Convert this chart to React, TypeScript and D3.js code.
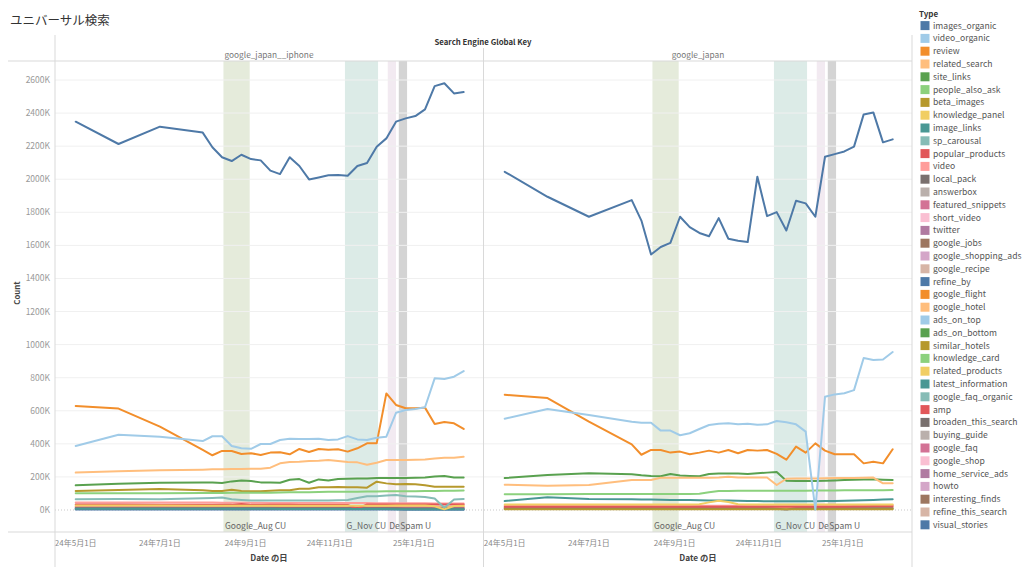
import React from "react";
import * as d3 from "d3";

const FONT = "'Noto Sans CJK JP', 'Noto Sans', sans-serif";

const dateStrings = [
  "2024-05-01", "2024-06-01", "2024-07-01", "2024-08-01", "2024-08-08", "2024-08-15", "2024-08-22",
  "2024-08-29", "2024-09-05", "2024-09-12", "2024-09-19", "2024-09-26", "2024-10-03", "2024-10-10",
  "2024-10-17", "2024-10-24", "2024-10-31", "2024-11-07", "2024-11-14", "2024-11-21", "2024-11-28",
  "2024-12-05", "2024-12-12", "2024-12-19", "2024-12-26", "2025-01-02", "2025-01-09", "2025-01-16",
  "2025-01-23", "2025-01-30", "2025-02-06",
];

const legendTypes = [
  "images_organic", "video_organic", "review", "related_search", "site_links", "people_also_ask",
  "beta_images", "knowledge_panel", "image_links", "sp_carousal", "popular_products", "video",
  "local_pack", "answerbox", "featured_snippets", "short_video", "twitter", "google_jobs",
  "google_shopping_ads", "google_recipe", "refine_by", "google_flight", "google_hotel", "ads_on_top",
  "ads_on_bottom", "similar_hotels", "knowledge_card", "related_products", "latest_information",
  "google_faq_organic", "amp", "broaden_this_search", "buying_guide", "google_faq", "google_shop",
  "home_service_ads", "howto", "interesting_finds", "refine_this_search", "visual_stories",
];

const legendColors = [
  "#4e79a7", "#a0cbe8", "#f28e2b", "#ffbe7d", "#59a14f", "#8cd17d", "#b6992d", "#f1ce63", "#499894",
  "#86bcb6", "#e15759", "#ff9d9a", "#79706e", "#bab0ac", "#d37295", "#fabfd2", "#b07aa1", "#9d7660",
  "#d4a6c8", "#d7b5a6", "#4e79a7", "#f28e2b", "#ffbe7d", "#a0cbe8", "#59a14f", "#b6992d", "#8cd17d",
  "#f1ce63", "#499894", "#86bcb6", "#e15759", "#79706e", "#bab0ac", "#d37295", "#fabfd2", "#b07aa1",
  "#d4a6c8", "#9d7660", "#d7b5a6", "#4e79a7",
];

const yTicks = [0, 200, 400, 600, 800, 1000, 1200, 1400, 1600, 1800, 2000, 2200, 2400, 2600];

// ---- google_japan__iphone (values in K) ----
const iphone_images_organic = [2348, 2213, 2318, 2282, 2193, 2133, 2110, 2148, 2122, 2114, 2052, 2031, 2133, 2080, 1999, 2011, 2024, 2025, 2021, 2080, 2098, 2197, 2247, 2348, 2368, 2382, 2422, 2563, 2580, 2519, 2527];
const iphone_video_organic = [387, 455, 443, 417, 446, 446, 387, 373, 370, 399, 399, 423, 431, 429, 429, 431, 423, 427, 447, 427, 423, 437, 443, 588, 605, 611, 621, 796, 792, 806, 840];
const iphone_review = [629, 613, 504, 363, 331, 357, 357, 339, 343, 333, 347, 349, 337, 369, 351, 369, 365, 367, 353, 373, 403, 403, 705, 635, 615, 615, 619, 520, 532, 524, 490];
const iphone_related_search = [226, 234, 240, 244, 246, 246, 248, 248, 250, 250, 256, 282, 290, 292, 296, 298, 302, 296, 290, 288, 274, 286, 302, 302, 302, 304, 306, 312, 316, 316, 322];
const iphone_site_links = [149, 159, 165, 167, 167, 163, 173, 179, 175, 167, 167, 165, 183, 187, 165, 185, 179, 187, 189, 191, 191, 193, 193, 193, 193, 195, 197, 203, 205, 197, 197];
const iphone_beta_images = [115, 121, 127, 119, 115, 115, 123, 115, 113, 113, 117, 119, 119, 129, 129, 137, 137, 139, 137, 137, 135, 171, 161, 155, 157, 155, 149, 141, 141, 141, 141];
const iphone_people_also_ask = [101, 101, 102, 103, 103, 103, 104, 104, 104, 105, 105, 106, 107, 108, 108, 109, 110, 110, 111, 111, 112, 112, 113, 113, 114, 114, 115, 115, 116, 117, 118];
const iphone_sp_carousal = [65, 67, 65, 71, 73, 75, 65, 61, 57, 57, 57, 57, 57, 57, 58, 58, 58, 59, 61, 73, 83, 83, 87, 91, 83, 81, 79, 69, 14, 63, 67];
const iphone_video = [46, 46, 45, 45, 45, 44, 44, 44, 44, 44, 43, 43, 43, 43, 43, 42, 42, 42, 42, 42, 42, 41, 41, 41, 41, 41, 41, 40, 40, 40, 40];
const iphone_popular_products = [33, 33, 32, 32, 32, 31, 31, 36, 31, 31, 31, 31, 31, 30, 30, 30, 30, 30, 30, 8, 33, 34, 34, 34, 34, 34, 33, 33, 33, 33, 33];
const iphone_knowledge_panel = [27, 27, 27, 26, 26, 26, 26, 26, 26, 26, 26, 26, 26, 26, 26, 26, 26, 26, 26, 26, 26, 26, 26, 27, 27, 27, 27, 22, 4, 24, 25];
const iphone_google_hotel = [21, 21, 21, 21, 21, 21, 21, 21, 21, 20, 20, 20, 20, 20, 20, 20, 20, 20, 20, 20, 20, 20, 20, 20, 20, 20, 20, 20, 19, 19, 19];
const iphone_featured_snippets = [17, 17, 17, 16, 16, 16, 16, 16, 16, 16, 16, 15, 15, 15, 15, 15, 15, 15, 15, 15, 15, 15, 15, 14, 14, 14, 14, 14, 14, 14, 14];
const iphone_local_pack = [10, 10, 10, 10, 10, 10, 10, 10, 10, 10, 10, 10, 10, 10, 10, 10, 10, 10, 10, 10, 10, 10, 10, 10, 9, 9, 9, 9, 9, 9, 9];
const iphone_image_links = [7, 7, 7, 7, 7, 7, 7, 7, 7, 7, 7, 6, 6, 6, 6, 6, 6, 6, 6, 6, 6, 6, 6, 5, 5, 5, 5, 4, 4, 4, 4];
const iphone_refine_by = [3, 3, 3, 3, 3, 3, 3, 3, 3, 3, 3, 3, 3, 3, 3, 3, 3, 3, 3, 3, 3, 3, 3, 3, 2, 2, 2, 2, 2, 2, 2];

// ---- google_japan (values in K) ----
const japan_images_organic = [2045, 1894, 1773, 1874, 1750, 1545, 1590, 1615, 1773, 1710, 1675, 1655, 1765, 1640, 1628, 1620, 2015, 1777, 1801, 1690, 1870, 1854, 1773, 2136, 2152, 2168, 2197, 2392, 2404, 2223, 2241];
const japan_video_organic = [552, 611, 574, 534, 528, 528, 480, 480, 452, 464, 490, 514, 522, 524, 518, 522, 516, 518, 538, 530, 518, 474, 2, 685, 699, 706, 725, 919, 907, 910, 955];
const japan_review = [697, 677, 534, 397, 334, 363, 363, 347, 353, 337, 347, 359, 347, 363, 343, 363, 359, 363, 339, 304, 383, 347, 403, 359, 337, 337, 337, 282, 292, 282, 367];
const japan_related_search = [153, 147, 151, 181, 181, 181, 195, 195, 195, 195, 195, 195, 197, 201, 197, 197, 197, 197, 151, 189, 191, 191, 191, 192, 193, 193, 194, 195, 196, 161, 161];
const japan_site_links = [193, 212, 222, 216, 210, 206, 204, 218, 208, 206, 204, 218, 220, 220, 220, 218, 222, 226, 230, 177, 175, 175, 175, 177, 179, 181, 183, 185, 186, 183, 181];
const japan_people_also_ask = [95, 95, 96, 96, 96, 96, 97, 97, 97, 97, 98, 107, 115, 115, 116, 116, 116, 117, 117, 117, 117, 117, 118, 118, 118, 119, 119, 119, 120, 120, 121];
const japan_image_links = [54, 77, 67, 65, 64, 63, 62, 61, 61, 60, 59, 58, 57, 57, 56, 55, 54, 53, 53, 53, 53, 53, 53, 54, 55, 56, 57, 59, 61, 63, 65];
const japan_knowledge_panel = [34, 34, 34, 34, 34, 34, 34, 34, 34, 34, 35, 46, 56, 48, 35, 34, 34, 34, 34, 34, 34, 34, 34, 34, 34, 34, 34, 34, 34, 34, 34];
const japan_video = [27, 27, 27, 27, 27, 27, 27, 26, 26, 26, 26, 26, 26, 26, 26, 26, 26, 26, 26, 26, 26, 26, 26, 26, 26, 27, 27, 27, 28, 28, 28];
const japan_popular_products = [19, 19, 19, 19, 19, 19, 19, 19, 19, 19, 19, 19, 19, 19, 19, 19, 19, 19, 19, 19, 19, 19, 19, 19, 20, 20, 21, 21, 22, 22, 22];
const japan_local_pack = [11, 11, 11, 11, 11, 11, 11, 11, 11, 11, 11, 11, 11, 11, 11, 11, 11, 11, 8, 3, 10, 11, 11, 11, 11, 11, 11, 11, 11, 11, 11];
const japan_google_hotel = [13, 13, 13, 13, 13, 13, 13, 13, 13, 13, 13, 13, 13, 13, 13, 13, 13, 13, 13, 13, 13, 13, 13, 13, 13, 13, 13, 13, 13, 13, 13];
const japan_beta_images = [5, 5, 5, 5, 5, 5, 5, 5, 5, 5, 5, 5, 5, 5, 5, 5, 5, 5, 5, 5, 5, 5, 5, 5, 5, 5, 5, 5, 5, 5, 5];

const iphoneSeries: [string, number[]][] = [
  ["images_organic", iphone_images_organic],
  ["video_organic", iphone_video_organic],
  ["review", iphone_review],
  ["related_search", iphone_related_search],
  ["site_links", iphone_site_links],
  ["people_also_ask", iphone_people_also_ask],
  ["beta_images", iphone_beta_images],
  ["knowledge_panel", iphone_knowledge_panel],
  ["image_links", iphone_image_links],
  ["sp_carousal", iphone_sp_carousal],
  ["popular_products", iphone_popular_products],
  ["video", iphone_video],
  ["local_pack", iphone_local_pack],
  ["featured_snippets", iphone_featured_snippets],
  ["refine_by", iphone_refine_by],
  ["google_hotel", iphone_google_hotel],
];

const japanSeries: [string, number[]][] = [
  ["images_organic", japan_images_organic],
  ["video_organic", japan_video_organic],
  ["review", japan_review],
  ["related_search", japan_related_search],
  ["site_links", japan_site_links],
  ["people_also_ask", japan_people_also_ask],
  ["beta_images", japan_beta_images],
  ["knowledge_panel", japan_knowledge_panel],
  ["image_links", japan_image_links],
  ["popular_products", japan_popular_products],
  ["video", japan_video],
  ["local_pack", japan_local_pack],
  ["google_hotel", japan_google_hotel],
];

const bandLabels = ["Google_Aug CU", "G_Nov CU", "De", "Spam U"];
const bandStarts = ["2024-08-16", "2024-11-12", "2024-12-13", "2024-12-21"];
const bandEnds = ["2024-09-04", "2024-12-06", "2024-12-19", "2024-12-27"];
const bandColors = ["#e5ebdb", "#dcebe7", "#f2eaf1", "#d4d4d4"];

const panes = [
  { name: "google_japan__iphone", x0: 55, x1: 483, series: iphoneSeries },
  { name: "google_japan", x0: 484, x1: 912, series: japanSeries },
];

const parse = d3.utcParse("%Y-%m-%d");
const dates = dateStrings.map((s) => parse(s) as Date);
const domainStart = parse("2024-04-16") as Date;
const domainEnd = parse("2025-02-20") as Date;

const PLOT_TOP = 61;
const PLOT_BOTTOM = 532;

const y = d3.scaleLinear().domain([0, 2600]).range([510, 80]);

const colorOf = (t: string) => legendColors[legendTypes.indexOf(t)];
const fmtDate = (d: Date) =>
  `${String(d.getUTCFullYear()).slice(2)}年${d.getUTCMonth() + 1}月${d.getUTCDate()}日`;

export default function App() {
  const gridColor = "#f0f0f0";
  const lineColor = "#d9d9d9";
  return (
    <svg
      width={1024}
      height={576}
      style={{ position: "absolute", left: 0, top: 0, display: "block", background: "#fff" }}
      fontFamily={FONT}
    >
      <text x={10} y={25} fontSize={12.5} fill="#333">ユニバーサル検索</text>

      {/* header */}
      <text x={483} y={45} fontSize={7.8} fontWeight="bold" fill="#333" textAnchor="middle">
        Search Engine Global Key
      </text>

      {panes.map((p, pi) => {
        const x = d3.scaleUtc().domain([domainStart, domainEnd]).range([p.x0, p.x1]);
        const ticks = d3.utcMonth.every(2)!.range(domainStart, domainEnd);
        const line = d3
          .line<number>()
          .x((_, i) => x(dates[i]))
          .y((v) => y(v))
          .curve(d3.curveLinear);
        const ordered = [...p.series].reverse();
        return (
          <g key={p.name}>
            <clipPath id={`clip${pi}`}>
              <rect x={p.x0} y={PLOT_TOP} width={p.x1 - p.x0} height={PLOT_BOTTOM - PLOT_TOP} />
            </clipPath>
            <text x={(p.x0 + p.x1) / 2} y={58} fontSize={8.3} fill="#777" textAnchor="middle">
              {p.name}
            </text>
            {/* bands */}
            {bandStarts.map((s, bi) => {
              const bx0 = x(parse(s) as Date);
              const bx1 = x(parse(bandEnds[bi]) as Date);
              return (
                <rect key={bi} x={bx0} y={PLOT_TOP} width={bx1 - bx0} height={PLOT_BOTTOM - PLOT_TOP} fill={bandColors[bi]} />
              );
            })}
            {/* grid */}
            {yTicks.map((t) =>
              t === 0 ? (
                <line key={t} x1={p.x0} x2={p.x1} y1={y(t)} y2={y(t)} stroke="#bbb" strokeWidth={0.8} strokeDasharray="1,2" />
              ) : (
                <line key={t} x1={p.x0} x2={p.x1} y1={y(t)} y2={y(t)} stroke={gridColor} strokeWidth={1} />
              )
            )}
            {/* band labels */}
            {bandStarts.map((s, bi) => (
              <text key={bi} x={x(parse(s) as Date) + 1.5} y={529} fontSize={8.5} fill="#666">
                {bandLabels[bi]}
              </text>
            ))}
            {/* lines */}
            <g clipPath={`url(#clip${pi})`}>
              {ordered.map(([t, vals]) => (
                <path key={t} d={line(vals) || ""} fill="none" stroke={colorOf(t)} strokeWidth={2} strokeLinejoin="round" strokeLinecap="round" />
              ))}
            </g>
            {/* x axis */}
            {ticks.map((d) => (
              <text key={d.toISOString()} x={x(d)} y={546} fontSize={8} fill="#888" textAnchor="middle">
                {fmtDate(d)}
              </text>
            ))}
            <text x={(p.x0 + p.x1) / 2} y={561} fontSize={8.3} fontWeight="bold" fill="#444" textAnchor="middle">
              Date の日
            </text>
          </g>
        );
      })}

      {/* y axis */}
      {yTicks.map((t) => (
        <text key={t} x={50} y={y(t) + 3} fontSize={8.5} fill="#999" textAnchor="end">
          {`${t}K`}
        </text>
      ))}
      <text transform="translate(20,293) rotate(-90)" fontSize={7.8} fill="#444" textAnchor="middle" fontWeight="bold">
        Count
      </text>

      {/* frame lines */}
      <line x1={8} x2={912} y1={PLOT_TOP} y2={PLOT_TOP} stroke={lineColor} />
      <line x1={8} x2={912} y1={PLOT_BOTTOM} y2={PLOT_BOTTOM} stroke={lineColor} />
      <line x1={55} x2={55} y1={35} y2={567} stroke={lineColor} />
      <line x1={483.5} x2={483.5} y1={48} y2={567} stroke={lineColor} />
      <line x1={912} x2={912} y1={35} y2={567} stroke={lineColor} />

      {/* legend */}
      <text x={919} y={17} fontSize={8} fontWeight="bold" fill="#333">Type</text>
      {legendTypes.map((t, i) => {
        const cy = 25.6 + i * 12.8;
        return (
          <g key={t}>
            <rect x={920.5} y={cy - 4.5} width={9} height={9} fill={legendColors[i]} />
            <text x={933} y={cy + 3} fontSize={8.6} fill="#555">{t}</text>
          </g>
        );
      })}
    </svg>
  );
}
